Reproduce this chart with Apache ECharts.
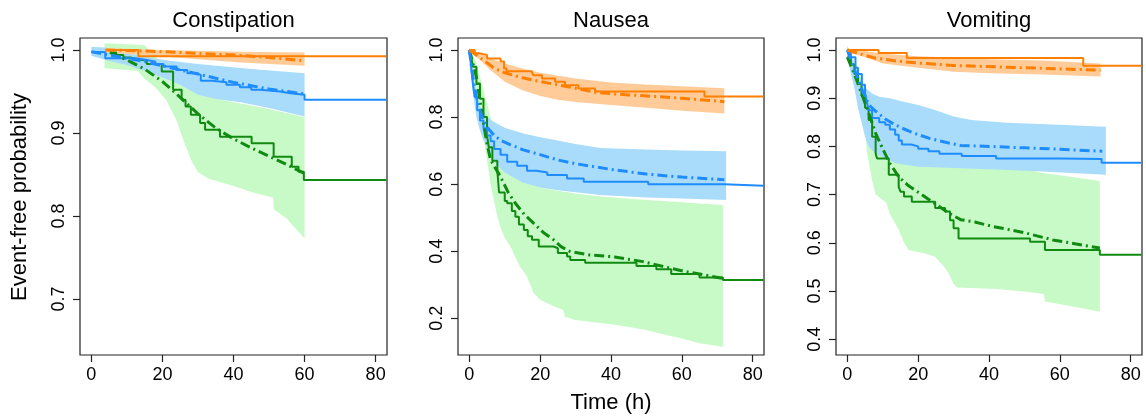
<!DOCTYPE html>
<html>
<head>
<meta charset="utf-8">
<script src="https://cdn.jsdelivr.net/npm/echarts@6/dist/echarts.min.js"></script>
<style>html,body{margin:0;padding:0;background:#fff}#c{width:1146px;height:419px}</style>
</head>
<body>
<div id="c"></div>
<script>
// ---------- labels / ticks ----------
const panelTitles = ['Constipation', 'Nausea', 'Vomiting'];
const xTitle = 'Time (h)';
const yTitle = 'Event-free probability';
const xTicks = [0, 20, 40, 60, 80];
const yTicksC = [0.7, 0.8, 0.9, 1.0];
const yTicksN = [0.2, 0.4, 0.6, 0.8, 1.0];
const yTicksV = [0.4, 0.5, 0.6, 0.7, 0.8, 0.9, 1.0];

// ---------- Constipation ----------
const c_or_km = [[4,1.0],[13.2,0.9925],[83,0.9925]];
const c_or_pred = [[4,1.0],[10,0.9995],[20,0.998],[30,0.996],[40,0.994],[50,0.991],[60,0.987]];
const c_or_lo = [[4,0.997],[15,0.994],[30,0.989],[42,0.985],[60,0.981]];
const c_or_hi = [[4,1.002],[20,1.0],[42,0.998],[60,0.997]];

const c_bl_km = [[0,0.9975],[3.9,0.990],[12.6,0.988],[15.6,0.986],[18,0.983],[20.3,0.980],[24,0.976],[27,0.972],[29.6,0.970],[30.8,0.963],[34,0.961],[38,0.958],[41.8,0.955],[45,0.952],[47.5,0.950],[53.1,0.948],[56,0.946],[60,0.940],[83,0.940]];
const c_bl_pred = [[0,0.998],[5,0.994],[10,0.99],[15,0.986],[20,0.981],[25,0.976],[30,0.971],[35,0.966],[40,0.961],[45,0.957],[50,0.953],[55,0.95],[60,0.947]];
const c_bl_lo = [[0,0.993],[4,0.988],[10,0.982],[15,0.975],[20,0.967],[25,0.958],[30,0.946],[35,0.941],[42,0.937],[50,0.930],[60,0.920]];
const c_bl_hi = [[0,1.004],[4,1.003],[8,0.998],[15,0.992],[22,0.987],[30,0.983],[45,0.977],[60,0.972]];

const c_gr_km = [[5.3,0.997],[7,0.994],[9,0.991],[11,0.989],[13,0.987],[15.6,0.983],[19.8,0.974],[23,0.952],[25.4,0.94],[26.5,0.932],[28,0.922],[30.6,0.912],[32,0.904],[36.2,0.8956],[45.1,0.8876],[51.3,0.8715],[56.4,0.8594],[58.3,0.8534],[59.8,0.8434],[83,0.8434]];
const c_gr_pred = [[5.2,0.997],[10,0.988],[15,0.977],[20,0.962],[25,0.943],[30,0.923],[35,0.906],[40,0.893],[45,0.882],[50,0.872],[55,0.862],[60,0.851]];
const c_gr_lo = [[3.7,0.978],[13,0.975],[15,0.965],[18,0.955],[21,0.94],[24,0.915],[26,0.89],[28,0.868],[30,0.853],[33,0.845],[40,0.836],[45,0.829],[51.2,0.822],[51.3,0.808],[55,0.797],[57,0.787],[60,0.773]];
const c_gr_hi = [[3.7,1.008],[15,1.006],[17,0.995],[20,0.985],[25,0.975],[30,0.955],[35,0.942],[40,0.937],[45,0.933],[50,0.929],[55,0.924],[60,0.919]];

// ---------- Nausea ----------
const n_or_km = [[0,1.0],[1.5,0.99],[3,0.985],[5,0.975],[8.8,0.966],[9.8,0.945],[10.5,0.937],[17.6,0.935],[18,0.925],[20.5,0.915],[24.2,0.905],[27,0.895],[30.8,0.885],[35.5,0.876],[66.4,0.861],[83,0.861]];
const n_or_pred = [[0,1.0],[2,0.985],[5,0.962],[7,0.946],[10,0.932],[15,0.917],[20,0.906],[25,0.896],[30,0.886],[36,0.873],[45,0.866],[55,0.86],[60,0.856],[72,0.846]];
const n_or_lo = [[0,0.995],[3,0.97],[6,0.94],[10,0.905],[15,0.88],[20,0.863],[25,0.852],[30,0.845],[40,0.836],[50,0.828],[60,0.819],[72,0.811]];
const n_or_hi = [[0,1.002],[3,0.99],[6,0.975],[10,0.96],[15,0.945],[20,0.932],[30,0.915],[40,0.903],[50,0.897],[60,0.892],[72,0.886]];

const n_bl_km = [[0,1.0],[0.5,0.95],[1,0.9],[1.5,0.86],[2.2,0.82],[3,0.79],[4,0.767],[5,0.745],[6,0.728],[7,0.705],[8.8,0.688],[10.7,0.667],[13.5,0.655],[16.3,0.64],[19,0.635],[22,0.627],[27.6,0.617],[32.3,0.607],[50.5,0.6],[72,0.5955],[83,0.5955]];
const n_bl_pred = [[0,1.0],[1,0.92],[2,0.86],[3,0.82],[4,0.79],[5,0.77],[7,0.745],[9,0.73],[11.5,0.718],[15,0.703],[20,0.688],[25,0.672],[30,0.661],[40,0.644],[50,0.63],[60,0.621],[72,0.613]];
const n_bl_lo = [[0,0.99],[1,0.87],[2,0.8],[3,0.76],[4,0.73],[5,0.71],[6,0.69],[8,0.655],[10,0.635],[15,0.605],[20,0.59],[25,0.582],[30,0.576],[37,0.568],[50,0.56],[60,0.557],[72.5,0.553]];
const n_bl_hi = [[0,1.0],[1,0.94],[2,0.87],[3,0.83],[5,0.8],[7,0.785],[10,0.768],[15,0.752],[20,0.74],[25,0.73],[30,0.72],[37,0.708],[50,0.703],[60,0.7],[72.5,0.698]];

const n_gr_km = [[0,1.0],[0.5,0.98],[1,0.95],[2,0.9],[3,0.855],[4,0.8],[5,0.745],[5.5,0.71],[6.5,0.67],[7.9,0.64],[8.4,0.575],[10,0.55],[10.7,0.543],[12,0.52],[13,0.503],[14,0.48],[15.4,0.463],[16.5,0.445],[17.7,0.434],[19.6,0.414],[23.8,0.409],[25,0.395],[27.6,0.384],[28.5,0.374],[32.7,0.366],[47.2,0.356],[52.8,0.346],[57,0.332],[65,0.322],[71.6,0.314],[83,0.314]];
const n_gr_pred = [[0,1.0],[2,0.92],[4,0.78],[5,0.72],[6,0.672],[8.8,0.622],[11,0.575],[13,0.543],[15.5,0.51],[18.2,0.483],[21,0.455],[23.8,0.434],[26,0.413],[28.5,0.399],[34,0.389],[41,0.383],[49,0.369],[55,0.354],[61.2,0.339],[66,0.33],[71.5,0.319]];
const n_gr_lo = [[0,0.99],[1,0.93],[2,0.86],[3,0.79],[4,0.74],[4.6,0.70],[6,0.60],[7,0.55],[7.9,0.503],[9,0.465],[10,0.44],[11.6,0.414],[14,0.36],[16.3,0.324],[18.2,0.275],[20,0.255],[23,0.24],[26.5,0.225],[27,0.205],[30,0.195],[34,0.19],[41.6,0.18],[50,0.165],[55.6,0.15],[60,0.14],[65,0.126],[71.6,0.115]];
const n_gr_hi = [[0,1.01],[2,0.96],[4,0.88],[6,0.8],[8,0.73],[10,0.68],[15,0.62],[20,0.59],[25,0.58],[30,0.572],[37,0.563],[50,0.553],[60,0.546],[71.6,0.538]];

// ---------- Vomiting ----------
const v_or_km = [[0,1.0],[8.8,0.994],[16.8,0.9834],[66.6,0.9675],[83,0.9675]];
const v_or_pred = [[0,1.0],[3,0.993],[8,0.983],[14,0.977],[20,0.973],[30,0.968],[42,0.965],[55,0.962],[71.5,0.958]];
const v_or_lo = [[0,0.996],[5,0.985],[10,0.972],[20,0.963],[30,0.955],[40,0.952],[55,0.949],[71.5,0.945]];
const v_or_hi = [[0,1.003],[5,0.998],[10,0.992],[20,0.987],[40,0.981],[55,0.978],[71.5,0.972]];

const v_bl_km = [[0,1.0],[1,0.985],[2.3,0.963],[3,0.95],[4.1,0.928],[5,0.91],[5.5,0.894],[6,0.875],[7,0.859],[9,0.85],[10.7,0.845],[12,0.835],[13.5,0.824],[14.5,0.812],[15.4,0.804],[18,0.8],[20,0.795],[22.9,0.79],[26,0.785],[32.3,0.78],[42,0.775],[60,0.774],[71.8,0.766],[83,0.766]];
const v_bl_pred = [[0,1.0],[1,0.98],[2,0.96],[3,0.94],[4,0.92],[5,0.905],[6,0.887],[8,0.873],[10.7,0.857],[13,0.847],[15.4,0.838],[19,0.827],[23,0.817],[28,0.808],[32,0.802],[40,0.8],[50,0.797],[60,0.794],[72,0.79]];
const v_bl_lo = [[0,0.99],[1,0.95],[2,0.92],[3,0.88],[4,0.85],[5,0.82],[6,0.8],[8,0.785],[10,0.778],[13.5,0.765],[20,0.758],[30,0.755],[42,0.752],[55,0.748],[73,0.741]];
const v_bl_hi = [[0,1.007],[2,0.97],[4,0.935],[5,0.922],[7,0.91],[9,0.903],[12,0.9],[15,0.894],[20,0.886],[25,0.875],[30,0.862],[35,0.855],[45,0.849],[60,0.845],[73,0.841]];

const v_gr_km = [[0,0.985],[1,0.97],[2,0.95],[3,0.93],[4,0.905],[5,0.88],[6,0.855],[7,0.82],[8,0.785],[8.4,0.775],[11.7,0.741],[14.5,0.716],[15,0.706],[16,0.696],[18.2,0.685],[24.8,0.672],[27.6,0.665],[29,0.647],[30,0.63],[31.4,0.609],[51.6,0.602],[55.8,0.585],[71.3,0.575],[83,0.575]];
const v_gr_pred = [[0,0.985],[2,0.95],[4,0.91],[6,0.87],[8,0.827],[10,0.795],[12,0.765],[14.5,0.737],[17,0.72],[19,0.71],[24,0.685],[29,0.66],[32,0.648],[36,0.643],[41,0.634],[50,0.621],[58,0.606],[65,0.597],[71.3,0.589]];
const v_gr_lo = [[0,0.99],[2,0.93],[4,0.88],[5,0.85],[5.5,0.79],[7,0.73],[8,0.70],[11,0.683],[12,0.66],[14.5,0.627],[16,0.6],[17.3,0.585],[22,0.578],[24.8,0.571],[27,0.553],[28.6,0.537],[30,0.515],[31,0.507],[42,0.504],[50,0.499],[55.5,0.494],[55.8,0.478],[62,0.47],[67,0.463],[71.3,0.457]];
const v_gr_hi = [[0,1.01],[3,0.96],[6,0.9],[10,0.85],[15,0.8],[20,0.775],[30,0.762],[40,0.757],[50,0.753],[55,0.745],[60,0.74],[71.3,0.728]];

// ---------- styling ----------
const FONT = "'Liberation Sans', Arial, Helvetica, sans-serif";
const COL = { or: '#FF7F00', bl: '#1E8CFF', gr: '#118A11' };
const BAND = { or: '#FFCC99', bl: '#A9DCFB', gr: '#C8FAC8' };

const grids = [
  { left: 80, top: 38, width: 307, height: 317 },
  { left: 458, top: 38, width: 306, height: 317 },
  { left: 836, top: 38, width: 306, height: 317 }
];
const yRanges = [[0.6325, 1.01446], [0.0906, 1.0358], [0.3672, 1.0249]];
const yTickSets = [yTicksC, yTicksN, yTicksV];

const panels = [
  { or: [c_or_km, c_or_pred, c_or_lo, c_or_hi], bl: [c_bl_km, c_bl_pred, c_bl_lo, c_bl_hi], gr: [c_gr_km, c_gr_pred, c_gr_lo, c_gr_hi] },
  { or: [n_or_km, n_or_pred, n_or_lo, n_or_hi], bl: [n_bl_km, n_bl_pred, n_bl_lo, n_bl_hi], gr: [n_gr_km, n_gr_pred, n_gr_lo, n_gr_hi] },
  { or: [v_or_km, v_or_pred, v_or_lo, v_or_hi], bl: [v_bl_km, v_bl_pred, v_bl_lo, v_bl_hi], gr: [v_gr_km, v_gr_pred, v_gr_lo, v_gr_hi] }
];

function bandSeries(p, lo, hi, color, z) {
  return {
    type: 'custom', xAxisIndex: p, yAxisIndex: p, silent: true, z: z, clip: true,
    data: [lo[0]],
    renderItem: function (params, api) {
      if (params.dataIndex !== 0) return;
      const pts = lo.map(d => api.coord(d)).concat(hi.slice().reverse().map(d => api.coord(d)));
      return { type: 'polygon', shape: { points: pts }, style: { fill: color } };
    }
  };
}

const series = [];
panels.forEach((pn, p) => {
  ['gr', 'bl', 'or'].forEach((k, i) => {
    series.push(bandSeries(p, pn[k][2], pn[k][3], BAND[k], 1 + i * 0.01));
  });
  ['gr', 'bl', 'or'].forEach(k => {
    series.push({
      type: 'line', xAxisIndex: p, yAxisIndex: p, data: pn[k][0], step: 'end',
      symbol: 'none', silent: true, z: 3,
      lineStyle: { color: COL[k], width: 2 }
    });
  });
  ['gr', 'bl', 'or'].forEach(k => {
    series.push({
      type: 'line', xAxisIndex: p, yAxisIndex: p, data: pn[k][1],
      symbol: 'none', silent: true, z: 4,
      lineStyle: { color: COL[k], width: 3, type: [10, 4, 2, 4], cap: 'butt' }
    });
  });
});

const option = {
  animation: false,
  backgroundColor: '#fff',
  grid: grids.map(g => Object.assign({ show: true, borderColor: '#222', borderWidth: 1.2, backgroundColor: 'transparent', containLabel: false }, g)),
  xAxis: grids.map((g, i) => ({
    gridIndex: i, type: 'value', min: -3.2, max: 83.2, position: 'bottom',
    axisLine: { show: false, onZero: false }, splitLine: { show: false },
    axisTick: { show: true, length: 7, lineStyle: { color: '#222', width: 1.2 }, customValues: xTicks },
    axisLabel: { customValues: xTicks, fontSize: 18, color: '#000', margin: 11, fontFamily: FONT }
  })),
  yAxis: grids.map((g, i) => ({
    gridIndex: i, type: 'value', min: yRanges[i][0], max: yRanges[i][1], position: 'left',
    axisLine: { show: false, onZero: false }, splitLine: { show: false },
    axisTick: { show: true, length: 7, lineStyle: { color: '#222', width: 1.2 }, customValues: yTickSets[i] },
    axisLabel: { customValues: yTickSets[i], rotate: 90, fontSize: 18, color: '#000', margin: 12, fontFamily: FONT,
      formatter: v => Number(v).toFixed(1) }
  })),
  graphic: [
    ...panelTitles.map((t, i) => ({
      type: 'text', x: grids[i].left + grids[i].width / 2, y: 21, silent: true,
      style: { text: t, font: '22px ' + FONT, fill: '#000', textAlign: 'center', textVerticalAlign: 'middle' }
    })),
    { type: 'text', x: 611, y: 403, silent: true,
      style: { text: xTitle, font: '22px ' + FONT, fill: '#000', textAlign: 'center', textVerticalAlign: 'middle' } },
    { type: 'text', x: 20, y: 197, rotation: Math.PI / 2, silent: true,
      style: { text: yTitle, font: '22px ' + FONT, fill: '#000', textAlign: 'center', textVerticalAlign: 'middle' } }
  ],
  series: series
};

const chart = echarts.init(document.getElementById('c'), null, { renderer: 'canvas' });
chart.setOption(option);
</script>
</body>
</html>
